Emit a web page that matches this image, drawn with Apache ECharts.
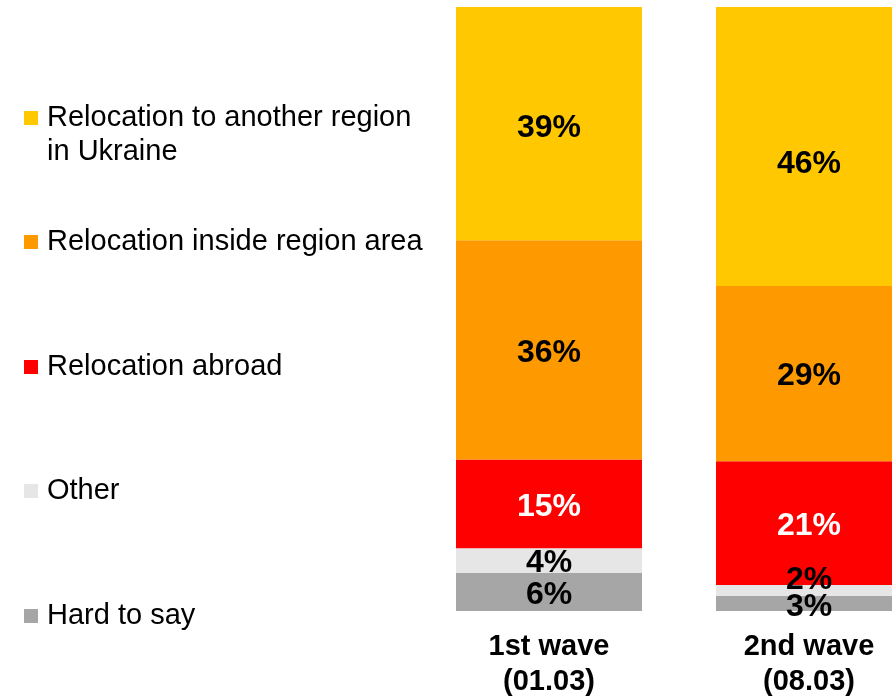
<!DOCTYPE html>
<html>
<head>
<meta charset="utf-8">
<script src="https://cdn.jsdelivr.net/npm/echarts@6/dist/echarts.min.js"></script>
<style>
  html, body { margin: 0; padding: 0; background: #fff; }
  #main { width: 892px; height: 698px; }
</style>
</head>
<body>
<div id="main"></div>
<script>
// categories (waves)
var waves = ['1st wave\n(01.03)', '2nd wave\n(08.03)'];
// shares in %
var anotherRegion = [38.6, 46.2];
var insideRegion = [36.3, 29.0];
var abroad = [14.7, 20.5];
var other = [4.1, 1.8];
var hardToSay = [6.3, 2.5];

var names = [
  'Relocation to another region in Ukraine',
  'Relocation inside region area',
  'Relocation abroad',
  'Other',
  'Hard to say'
];
var colors = ['#FFC800', '#FF9900', '#FF0000', '#E6E6E6', '#A6A6A6'];
var legendY = [118, 242, 367, 491, 616];

var chart = echarts.init(document.getElementById('main'));

var font = '"Liberation Sans", Arial, sans-serif';

function mkLegend(i) {
  var multi = i === 0;
  var lg = {
    left: 24,
    top: multi ? legendY[i] - 51 : legendY[i] - 17,
    padding: 0,
    orient: 'vertical',
    itemWidth: 14,
    itemHeight: 14,
    itemGap: 0,
    icon: 'rect',
    selectedMode: false,
    data: [names[i]],
    textStyle: {
      fontFamily: font,
      fontSize: 29,
      lineHeight: 34,
      color: '#000',
      padding: [0, 0, 0, 4]
    }
  };
  if (multi) {
    // empty first line so the first real line sits level with the icon
    lg.formatter = function () {
      return '{s| }\n{t|Relocation to another region}\n{t|in Ukraine}';
    };
    lg.textStyle.rich = {
      s: { fontSize: 29, lineHeight: 34, fontFamily: font },
      t: { fontSize: 29, lineHeight: 34, fontFamily: font, color: '#000' }
    };
  }
  return lg;
}

function mkSeries(i, values, labelColor) {
  return {
    name: names[i],
    type: 'bar',
    stack: 'all',
    barWidth: 186,
    itemStyle: { color: colors[i] },
    label: {
      show: true,
      position: 'inside',
      offset: [0, 3],
      fontFamily: font,
      fontWeight: 'bold',
      fontSize: 32,
      color: labelColor,
      formatter: function (p) { return Math.round(p.value) + '%'; }
    },
    data: values.slice()
  };
}

var series = [
  mkSeries(4, hardToSay, '#000'),
  mkSeries(3, other, '#000'),
  mkSeries(2, abroad, '#fff'),
  mkSeries(1, insideRegion, '#000'),
  mkSeries(0, anotherRegion, '#000')
];
// label tweaks
series[1].data[1] = { value: other[1], label: { offset: [0, -10] } };
series[0].data[1] = { value: hardToSay[1], label: { offset: [0, 4] } };
series[4].data[0] = { value: anotherRegion[0], label: { offset: [0, 5] } };
series[4].data[1] = { value: anotherRegion[1], label: { offset: [0, 18] } };

var option = {
  backgroundColor: '#fff',
  animation: false,
  legend: [0, 1, 2, 3, 4].map(mkLegend),
  grid: {
    left: 419,
    width: 520,
    top: 7,
    height: 604,
    outerBoundsMode: 'none'
  },
  xAxis: {
    type: 'category',
    data: waves,
    axisLine: { show: false },
    axisTick: { show: false },
    axisLabel: {
      margin: 18,
      fontFamily: font,
      fontWeight: 'bold',
      fontSize: 29,
      lineHeight: 35,
      color: '#000'
    }
  },
  yAxis: {
    type: 'value',
    min: 0,
    max: 100,
    show: false
  },
  series: series
};

chart.setOption(option);
</script>
</body>
</html>
